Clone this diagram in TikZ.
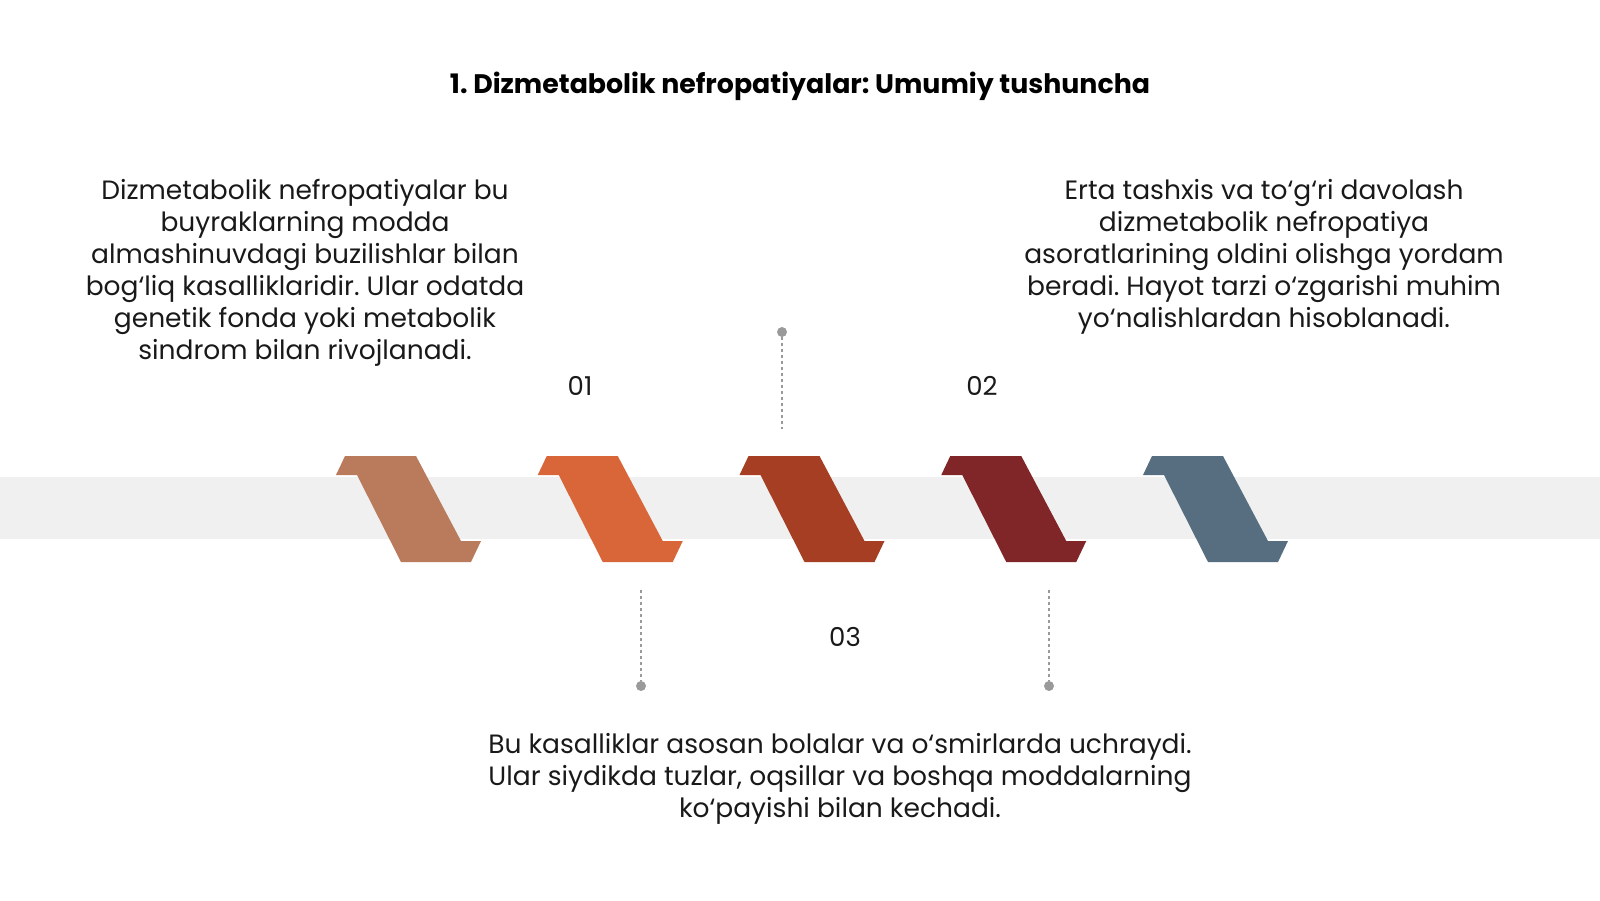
\documentclass[tikz,border=0pt]{standalone}
\usepackage{fontspec}
\setmainfont{Poppins}
\usepackage{tikz}
\usetikzlibrary{positioning}
\frenchspacing

\definecolor{bandgray}{HTML}{F0F0F0}
\definecolor{tanbrown}{HTML}{B97B5B}
\definecolor{burntorange}{HTML}{D96639}
\definecolor{rust}{HTML}{A63E23}
\definecolor{wine}{HTML}{802628}
\definecolor{slate}{HTML}{566E80}
\definecolor{guidegray}{HTML}{9A9A9A}

\tikzset{
  para/.style={align=center, font=\fontsize{26.5}{32}\selectfont, text=black!90},
  num/.style={font=\fontsize{26}{30}\selectfont, text=black!90},
  headline/.style={font=\fontsize{26.8}{30}\selectfont\bfseries, text=black},
  pin/.style={circle, fill=guidegray, inner sep=0pt, minimum size=10pt},
  guide/.style={guidegray, line width=1.2pt, dash pattern=on 3pt off 3pt},
}

\begin{document}
\begin{tikzpicture}[x=1pt, y=-1pt]
\useasboundingbox (0,0) rectangle (1600,900);
\fill[bandgray] (0,477) rectangle (1600,539); % band

% chevron shapes
\foreach \c [count=\i from 0] in {tanbrown, burntorange, rust, wine, slate}
  \fill[\c, shift={(345+201.75*\i,456)}]
    (0,0) -- (71,0) -- (116,85) -- (136,85) -- (126,106)
    -- (56,106) -- (12,19) -- (-9,19) -- cycle;

\node[headline] (title) at (800,86) {1. Dizmetabolik nefropatiyalar: Umumiy tushuncha};

\node[para, anchor=north] (left) at (305,176) {Dizmetabolik nefropatiyalar bu\\buyraklarning modda\\almashinuvdagi buzilishlar bilan\\bog‘liq kasalliklaridir. Ular odatda\\genetik fonda yoki metabolik\\sindrom bilan rivojlanadi.};
\node[para, anchor=north] (right) at (1264,176) {Erta tashxis va to‘g‘ri davolash\\dizmetabolik nefropatiya\\asoratlarining oldini olishga yordam\\beradi. Hayot tarzi o‘zgarishi muhim\\yo‘nalishlardan hisoblanadi.};
\node[para] (bottom) at (840,779) {Bu kasalliklar asosan bolalar va o‘smirlarda uchraydi.\\Ular siydikda tuzlar, oqsillar va boshqa moddalarning\\ko‘payishi bilan kechadi.};

\node[num] (n1) at (580,386) {01};
\node[num] (n2) at (982,386) {02};
\node[num] (n3) at (845,637) {03};

% dashed guides
\node[pin] (p1) at (782,332) {};
\coordinate (g1) at (782,429);
\draw[guide] (p1) -- (g1);
\node[pin] (p2) at (641,686) {};
\coordinate (g2) at (641,590);
\draw[guide] (g2) -- (p2);
\node[pin] (p3) at (1049,686) {};
\coordinate (g3) at (1049,590);
\draw[guide] (g3) -- (p3);
\end{tikzpicture}
\end{document}
